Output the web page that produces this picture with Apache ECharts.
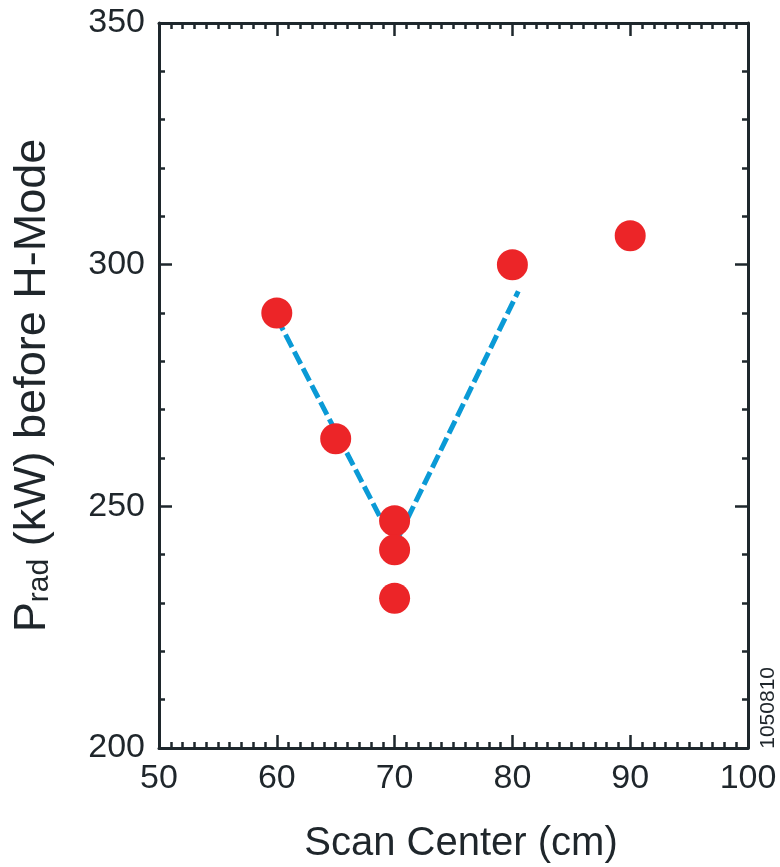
<!DOCTYPE html>
<html>
<head>
<meta charset="utf-8">
<script src="https://cdn.jsdelivr.net/npm/echarts@6/dist/echarts.min.js"></script>
<style>
  html, body { margin: 0; padding: 0; background: #fff; }
  #chart { width: 780px; height: 867px; }
</style>
</head>
<body>
<div id="chart"></div>
<script>
// measured points
const scanCenter = [60, 65, 70, 70, 70, 80, 90];
const pradValues = [290, 264, 247, 241, 231, 300, 306];

// dashed V fit drawn through the scan
const fitX = [60, 70, 80.5];
const fitY = [289, 242, 294.5];

const xTicks = [50, 60, 70, 80, 90, 100];
const yTicks = [200, 250, 300, 350];

const axisColor = '#1e272c';
const textColor = '#1f262b';
const font = 'Liberation Sans';

const chart = echarts.init(document.getElementById('chart'));

const frameAxis = {
  axisLine: { show: true, onZero: false, lineStyle: { color: axisColor, width: 3 } },
  axisTick: { show: true, inside: true, length: 13, lineStyle: { color: axisColor, width: 2.5 } },
  minorTick: { show: true, length: 6, lineStyle: { color: axisColor, width: 2.5 } },
  splitLine: { show: false },
  minorSplitLine: { show: false }
};

const option = {
  animation: false,
  grid: { left: 159, right: 32, top: 23, bottom: 119, outerBoundsMode: 'none' },
  xAxis: [
    Object.assign({
      type: 'value',
      min: xTicks[0],
      max: xTicks[xTicks.length - 1],
      interval: 10,
      name: 'Scan Center (cm)',
      nameLocation: 'middle',
      nameGap: 76,
      nameTextStyle: { fontFamily: font, fontSize: 40, color: textColor, padding: [0, 0, 0, 15] },
      axisLabel: { fontFamily: font, fontSize: 34, color: textColor, margin: 14 }
    }, frameAxis, { minorTick: Object.assign({}, frameAxis.minorTick, { splitNumber: 10 }) }),
    Object.assign({
      type: 'value',
      position: 'top',
      min: xTicks[0],
      max: xTicks[xTicks.length - 1],
      interval: 10,
      axisLabel: { show: false }
    }, frameAxis, { minorTick: Object.assign({}, frameAxis.minorTick, { splitNumber: 10 }) })
  ],
  yAxis: [
    Object.assign({
      type: 'value',
      min: yTicks[0],
      max: yTicks[yTicks.length - 1],
      interval: 50,
      name: '{p|P}{s|rad}{p| (kW) before H-Mode}',
      nameLocation: 'middle',
      nameRotate: 90,
      nameGap: 104,
      nameTextStyle: {
        fontFamily: font,
        color: textColor,
        rich: {
          p: { fontFamily: font, fontSize: 45, color: textColor, lineHeight: 50, verticalAlign: 'bottom' },
          s: { fontFamily: font, fontSize: 30, color: textColor, lineHeight: 50, verticalAlign: 'bottom' }
        }
      },
      axisLabel: { fontFamily: font, fontSize: 34, color: textColor, margin: 14 }
    }, frameAxis, { minorTick: Object.assign({}, frameAxis.minorTick, { splitNumber: 5 }) }),
    Object.assign({
      type: 'value',
      position: 'right',
      min: yTicks[0],
      max: yTicks[yTicks.length - 1],
      interval: 50,
      axisLabel: { show: false }
    }, frameAxis, { minorTick: Object.assign({}, frameAxis.minorTick, { splitNumber: 5 }) })
  ],
  graphic: [{
    type: 'text',
    left: 758,
    top: 667,
    rotation: Math.PI / 2,
    style: { text: '1050810', fontFamily: font, fontSize: 21, fill: textColor }
  }],
  series: [
    {
      type: 'line',
      data: fitX.map((x, i) => [x, fitY[i]]),
      symbol: 'none',
      z: 2,
      lineStyle: { color: '#0a9ad6', width: 5, type: [14, 5] }
    },
    {
      type: 'scatter',
      data: scanCenter.map((x, i) => [x, pradValues[i]]),
      symbolSize: 31,
      z: 3,
      itemStyle: { color: '#ec2528', opacity: 1 }
    }
  ]
};

chart.setOption(option);
</script>
</body>
</html>
